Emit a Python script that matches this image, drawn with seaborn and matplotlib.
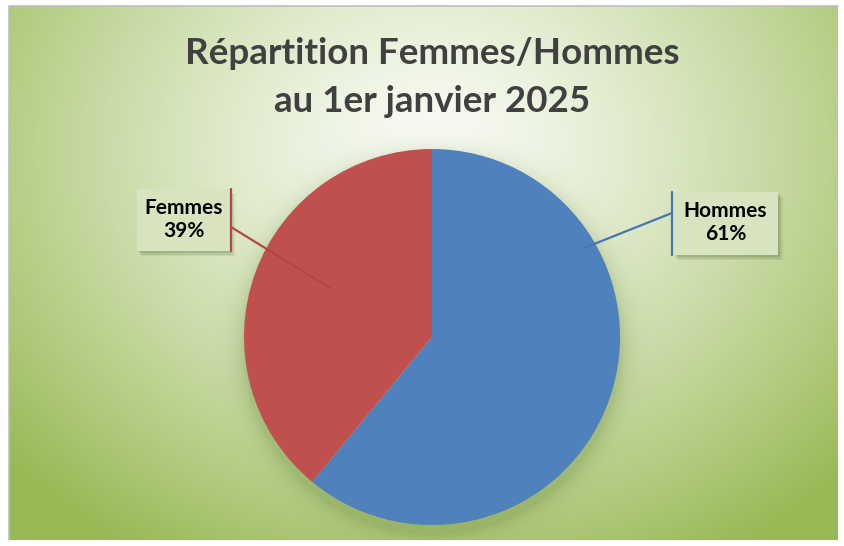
import numpy as np
import matplotlib
matplotlib.use("Agg")
import matplotlib.pyplot as plt
import matplotlib.patches as mpatches
import seaborn as sns

# data
labels = ["Hommes", "Femmes"]
shares = [61, 39]
title_lines = ["Répartition Femmes/Hommes", "au 1er janvier 2025"]

sns.set_theme(style="white")
plt.rcParams['font.family'] = ['Lato', 'DejaVu Sans']

W, H = 845, 546
colors = ["#4F81BD", "#C0504D"]
line_colors = ["#4676B0", "#B34744"]

fig = plt.figure(figsize=(W / 100, H / 100), dpi=100)
fig.patch.set_facecolor("white")

# chart area in pixel coords (y down)
x0, x1, y0, y1 = 9, 838, 6, 540
cx, cy, r = 432, 337, 188

# radial gradient background with a soft shadow under the pie
xs = np.arange(x0, x1)
ys = np.arange(y0, y1)
X, Y = np.meshgrid(xs, ys)
d = np.sqrt(((X - 432) / 560.0) ** 2 + ((Y - 150) / 470.0) ** 2)
t = np.clip(d, 0, 1) ** 1.3
c_in = np.array([250, 252, 246]) / 255.0
c_out = np.array([152, 186, 86]) / 255.0
img = c_in[None, None, :] * (1 - t[..., None]) + c_out[None, None, :] * t[..., None]
dist = np.sqrt((X - cx) ** 2 + (Y - (cy + 8)) ** 2) - r
shadow = np.exp(-np.clip(dist, 0, None) / 10.0) * 0.30
shadow[dist < -25] = 0
img = img * (1 - shadow[..., None]) + np.array([100, 130, 55])[None, None, :] / 255.0 * shadow[..., None]

# background layer
ax = fig.add_axes([0, 0, 1, 1], zorder=0)
ax.imshow(img, extent=(x0, x1, y1, y0), origin="upper", zorder=0)
ax.plot([x0, x0, x1], [y1, y0, y0], color="#BFBFBF", lw=1.2, zorder=1)
ax.set_xlim(0, W)
ax.set_ylim(H, 0)
ax.axis("off")

# pie layer (normal y direction)
pax = fig.add_axes([0, 0, 1, 1], zorder=1)
pax.patch.set_alpha(0)
wedges, _ = pax.pie(shares, colors=colors, startangle=90, counterclock=False,
                    center=(cx, H - cy), radius=r, frame=True,
                    wedgeprops=dict(linewidth=0, edgecolor="none", antialiased=True))
pax.set_xlim(0, W)
pax.set_ylim(0, H)
pax.axis("off")

# title
fig.text(432 / W, 1 - 53 / H, title_lines[0], ha="center", va="center",
         fontsize=26.5, fontweight="bold", color="#404040")
fig.text(432 / W, 1 - 101 / H, title_lines[1], ha="center", va="center",
         fontsize=26.5, fontweight="bold", color="#404040")

# label layer (pixel coords, y down)
lab_ax = fig.add_axes([0, 0, 1, 1], zorder=2)
lab_ax.patch.set_alpha(0)
lab_ax.set_xlim(0, W)
lab_ax.set_ylim(H, 0)
lab_ax.axis("off")

boxes = {
    "Hommes": dict(box=(673, 192, 105, 63), line=[(584, 248), (672, 213)], side=672),
    "Femmes": dict(box=(137, 189, 93, 62), line=[(330, 288), (231, 227)], side=231),
}
for lab, val, col in zip(labels, shares, line_colors):
    b = boxes[lab]
    bx, by, bw, bh = b["box"]
    for k, a in [(5, 0.10), (3.5, 0.12), (2, 0.15)]:
        lab_ax.add_patch(mpatches.Rectangle((bx + k, by + k), bw, bh, facecolor="#4a5a30",
                                            edgecolor="none", alpha=a, zorder=3))
    lab_ax.add_patch(mpatches.Rectangle((bx, by), bw, bh, facecolor="#D8E4BF",
                                        edgecolor="none", zorder=4))
    (lx0, ly0), (lx1, ly1) = b["line"]
    lab_ax.plot([lx0, lx1], [ly0, ly1], color=col, lw=1.6, zorder=5)
    lab_ax.plot([b["side"], b["side"]], [by, by + bh], color=col, lw=1.6, zorder=5)
    lab_ax.text(bx + bw / 2, by + 19, lab, ha="center", va="center", fontsize=15,
                fontweight="bold", color="black", zorder=6)
    lab_ax.text(bx + bw / 2, by + 42, f"{val}%", ha="center", va="center", fontsize=15,
                fontweight="bold", color="black", zorder=6)

fig.savefig("out.png", dpi=100)
